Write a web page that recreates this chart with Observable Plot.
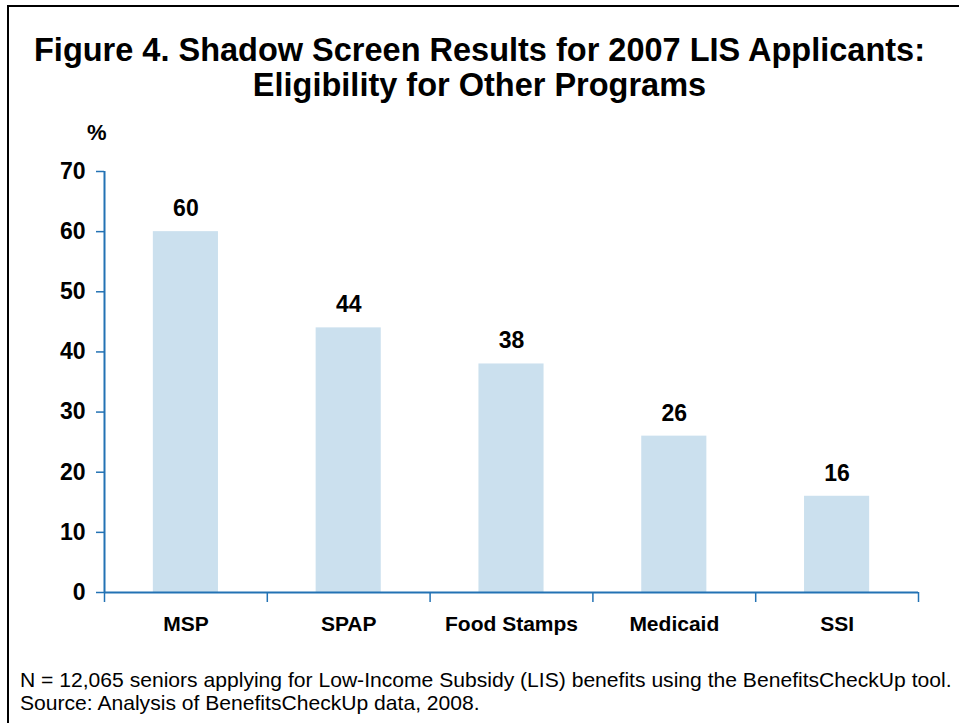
<!DOCTYPE html>
<html>
<head>
<meta charset="utf-8">
<script src="https://cdn.jsdelivr.net/npm/d3@7"></script>
<script src="https://cdn.jsdelivr.net/npm/@observablehq/plot@0.6"></script>
<style>
  html, body { margin: 0; padding: 0; background: #fff; }
  #wrap { position: relative; width: 959px; height: 723px; overflow: hidden; font-family: "Liberation Sans", Arial, sans-serif; color: #000; }
  #border { position: absolute; left: 7px; top: 5px; width: 1100px; height: 1100px; border-top: 2px solid #000; border-left: 2px solid #000; }
  #title { position: absolute; left: 0; top: 33px; width: 959px; text-align: center; font-weight: bold; font-size: 32.5px; line-height: 35px; }
  #unit { position: absolute; left: 87px; top: 120px; font-weight: bold; font-size: 22px; }
  #chart { position: absolute; left: 0; top: 0; }
  #note { position: absolute; left: 20px; top: 668px; font-size: 21.1px; line-height: 23px; white-space: nowrap; }
</style>
</head>
<body>
<div id="wrap">
  <div id="border"></div>
  <div id="title">Figure 4. Shadow Screen Results for 2007 LIS Applicants:<br>Eligibility for Other Programs</div>
  <div id="unit">%</div>
  <div id="chart"></div>
  <div id="note">N = 12,065 seniors applying for Low-Income Subsidy (LIS) benefits using the BenefitsCheckUp tool.<br>Source: Analysis of BenefitsCheckUp data, 2008.</div>
</div>
<script>
const categories = ["MSP", "SPAP", "Food Stamps", "Medicaid", "SSI"];
const values = [60, 44, 38, 26, 16];
const yTicks = [0, 10, 20, 30, 40, 50, 60, 70];

const data = categories.map((c, i) => ({category: c, index: i, value: values[i]}));
const axisBlue = "#2372b4";
const barColor = "#cbe0ee";

const boundaries = d3.range(categories.length + 1);
const centers = categories.map((c, i) => i + 0.5);

const chart = Plot.plot({
  width: 959,
  height: 660,
  marginTop: 171,
  marginBottom: 68,
  marginLeft: 104,
  marginRight: 41,
  style: {fontFamily: "'Liberation Sans', Arial, sans-serif", color: "#000", background: "transparent"},
  x: {type: "linear", domain: [0, categories.length]},
  y: {domain: [0, 70]},
  marks: [
    Plot.rectY(data, {x1: d => d.index + 0.3, x2: d => d.index + 0.7, y: "value", fill: barColor}),
    Plot.text(data, {x: d => d.index + 0.5, y: "value", text: d => String(d.value), dy: -23, fontSize: 23, fontWeight: "bold", fill: "#000"}),
    Plot.ruleX([0], {stroke: axisBlue, strokeWidth: 2}),
    Plot.ruleY([0], {stroke: axisBlue, strokeWidth: 2}),
    Plot.axisY({ticks: yTicks, tickSize: 8, tickPadding: 11, stroke: axisBlue, strokeWidth: 1.5, fill: "#000", fontSize: 23, fontWeight: "bold", label: null}),
    Plot.axisX({ticks: boundaries, tickSize: 10, stroke: axisBlue, strokeWidth: 1.5, text: null, label: null}),
    Plot.axisX({ticks: centers, tickSize: 0, tickPadding: 24, tickFormat: v => categories[Math.round(v - 0.5)], fill: "#000", fontSize: 21, fontWeight: "bold", label: null})
  ]
});
document.getElementById("chart").appendChild(chart);
</script>
</body>
</html>
